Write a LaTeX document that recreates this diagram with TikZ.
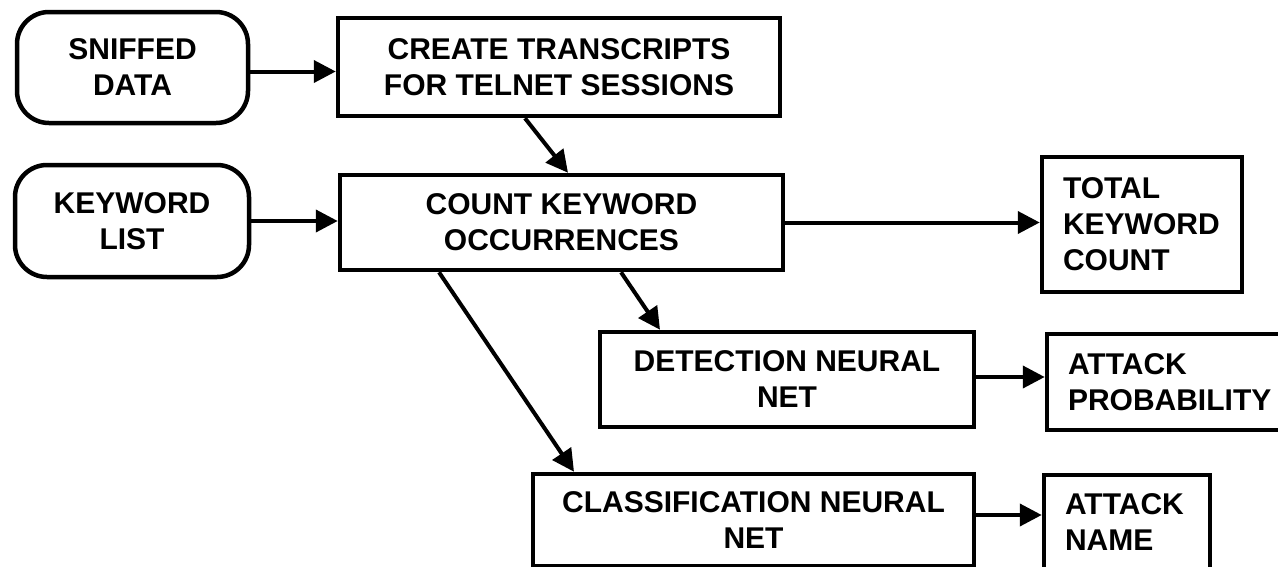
\documentclass[tikz,border=0pt]{standalone}
\usepackage{fontspec}
\setmainfont{Liberation Sans}
\usetikzlibrary{arrows.meta}
\begin{document}
\begin{tikzpicture}[x=1pt,y=-1pt,
  every node/.style={font=\fontsize{30}{36}\selectfont\bfseries, inner sep=0pt},
  box/.style={draw, line width=4.5pt, align=center},
  outbox/.style={box, align=left, inner xsep=21pt},
  input/.style={box, rounded corners=32pt},
  flow/.style={draw, line width=4pt, -{Triangle[length=22pt,width=22pt]}}]
  \useasboundingbox (0,0) rectangle (1278,566);
  \clip (0,0) rectangle (1278,566);

  % inputs
  \node[input, minimum width=231pt, minimum height=111pt] (sniff) at (132.5,67.5) {SNIFFED\\DATA};
  \node[input, minimum width=234pt, minimum height=112pt] (kw) at (132,221) {KEYWORD\\LIST};

  % processing steps
  \node[box, minimum width=442pt, minimum height=98pt] (create) at (559,67) {CREATE TRANSCRIPTS\\FOR TELNET SESSIONS};
  \node[box, minimum width=443pt, minimum height=95pt] (count) at (561.5,222.5) {COUNT KEYWORD\\OCCURRENCES};
  \node[box, minimum width=374pt, minimum height=95pt] (detect) at (787,379.5) {DETECTION NEURAL\\NET};
  \node[box, minimum width=441pt, minimum height=92pt] (classif) at (753.5,520) {CLASSIFICATION NEURAL\\NET};

  % outputs: text set flush left with a wide inset
  \node[outbox, minimum height=135pt, text width=158pt] (total) at (1142,224.5) {TOTAL\\KEYWORD\\COUNT};
  \node[outbox, minimum height=96pt, text width=196pt] (prob) at (1166,382) {ATTACK\\PROBABILITY};
  \node[outbox, minimum height=95pt, text width=124pt] (name) at (1127,522.5) {ATTACK\\NAME};

  % connectors
  \draw[flow] ([yshift=-4pt]sniff.east) -- ([yshift=-4pt]sniff.east -| create.west);
  \draw[flow] (kw.east) -- (kw.east -| count.west);
  \draw[flow] ([xshift=-34pt]create.south) -- ([xshift=6.5pt]count.north);
  \draw[flow] (count.east) -- (count.east -| total.west);
  \draw[flow] ([xshift=59.5pt]count.south) -- ([xshift=-127pt]detect.north);
  \draw[flow] ([xshift=-122.5pt]count.south) -- ([xshift=-179.5pt]classif.north);
  \draw[flow] ([yshift=2.5pt]detect.east) -- ([yshift=2.5pt]detect.east -| prob.west);
  \draw[flow] ([yshift=5pt]classif.east) -- ([yshift=5pt]classif.east -| name.west);
\end{tikzpicture}
\end{document}
